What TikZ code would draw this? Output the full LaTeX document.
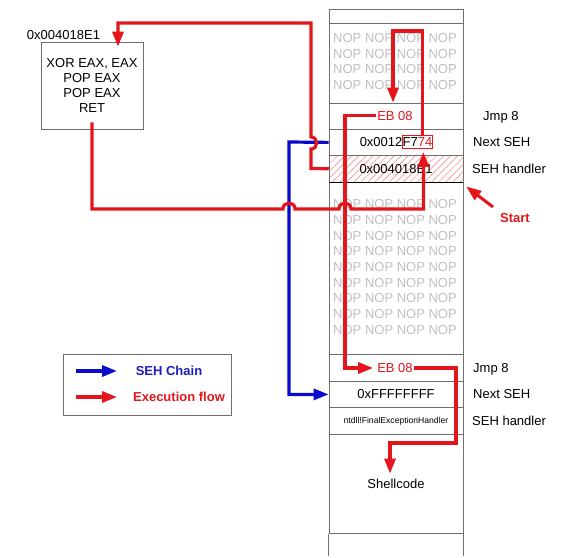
\documentclass[tikz,border=0pt]{standalone}
\usepackage{fontspec}
\setmainfont{Liberation Sans}
\usetikzlibrary{arrows.meta,patterns.meta}
\definecolor{myred}{RGB}{228,22,28}
\definecolor{myblue}{RGB}{10,10,205}
\definecolor{legblue}{RGB}{30,30,190}
\definecolor{linegray}{RGB}{110,110,110}
\definecolor{nopgray}{RGB}{192,192,192}
\newcommand\fsz{\fontsize{13}{15.7}\selectfont}
\newcommand\fszs{\fontsize{8.6}{10}\selectfont}
\tikzset{
  txt/.style={inner sep=0pt, text height=9.4pt, text depth=0pt, font=\fsz},
  cell/.style={draw=linegray, line width=0.8pt, minimum width=134pt, inner sep=0pt, anchor=north},
  nopblk/.style={inner sep=0pt, align=center, font=\fsz, text=nopgray},
  redline/.style={draw=myred, line width=3.2pt, line join=miter},
  blueline/.style={draw=myblue, line width=3.2pt},
  tip/.style={-{Triangle[width=11pt,length=15pt]}},
}
\begin{document}
\begin{tikzpicture}[x=1pt,y=-1pt]
\useasboundingbox[fill=white] (0,0) rectangle (569,557);

% ---- stack cells
\node[cell, minimum height=14pt] (c0) at (396,9) {};
\node[cell, minimum height=80pt] (nopA) at (396,23) {};
\node[cell, minimum height=26pt] (jmp1c) at (396,103) {};
\node[cell, minimum height=26pt] (next1c) at (396,129) {};
\node[cell, minimum height=27pt, pattern={Lines[angle=45,distance=5pt,line width=0.5pt]}, pattern color=myred!55] (hand1c) at (396,155) {};
\node[cell, minimum height=172pt] (nopB) at (396,182) {};
\node[cell, minimum height=27pt] (jmp2c) at (396,354) {};
\node[cell, minimum height=26pt] (next2c) at (396,381) {};
\node[cell, minimum height=27pt] (hand2c) at (396,407) {};
\node[cell, minimum height=99pt] (shellc) at (396,434) {};
\draw[linegray, line width=0.8pt] (shellc.south west) -- ++(0,22) (shellc.south east) -- ++(0,22);
\draw[black, line width=0.8pt] (hand1c.south west) -- (hand1c.south east);

% ---- stack texts
\node[nopblk] (nops1) at (395,61.5) {NOP NOP NOP NOP\\NOP NOP NOP NOP\\NOP NOP NOP NOP\\NOP NOP NOP NOP};
\node[nopblk] (nops2) at (395,267) {NOP NOP NOP NOP\\NOP NOP NOP NOP\\NOP NOP NOP NOP\\NOP NOP NOP NOP\\NOP NOP NOP NOP\\NOP NOP NOP NOP\\NOP NOP NOP NOP\\NOP NOP NOP NOP\\NOP NOP NOP NOP};
\node[txt, text=myred] (eb1) at (395,115.5) {EB 08};
\node[txt, anchor=east] (pre) at (402.6,142) {0x0012};
\node[txt, anchor=west, draw=myred, line width=0.8pt, inner xsep=0.6pt, inner ysep=1.8pt] (f774) at (401.6,142) {F7\textcolor{myred}{74}};
\node[txt] (addr) at (396,168.5) {0x004018E1};
\node[txt, text=myred] (eb2) at (395,368) {EB 08};
\node[txt] (ffff) at (396,394) {0xFFFFFFFF};
\node[inner sep=0pt, text height=6.2pt, text depth=0pt, font=\fszs] (ntdll) at (396,420.5) {ntdll!FinalExceptionHandler};
\node[txt] (shell) at (396,483.5) {Shellcode};

% ---- right labels
\node[txt, anchor=west] (l1) at (483,115.5) {Jmp 8};
\node[txt, anchor=west] (l2) at (473,142) {Next SEH};
\node[txt, anchor=west] (l3) at (472,168.5) {SEH handler};
\node[txt, anchor=west] (l4) at (473,368) {Jmp 8};
\node[txt, anchor=west] (l5) at (473,394) {Next SEH};
\node[txt, anchor=west] (l6) at (472,420.5) {SEH handler};

% ---- start
\node[txt, text=myred, font=\fsz\bfseries] (start) at (515,218) {Start};
\draw[draw=myred, line width=3pt, tip] (493,207) -- ([shift={(3pt,-4pt)}]hand1c.south east);

% ---- gadget box
\node[draw=linegray, line width=0.8pt, minimum width=102pt, minimum height=87pt, inner sep=0pt, align=center, font=\fontsize{13}{15.3}\selectfont] (gadget) at (92,85.5) {XOR EAX, EAX\\POP EAX\\POP EAX\\RET};
\node[txt] (gaddr) at (63.5,35) {0x004018E1};

% ---- legend
\node[draw=linegray, line width=0.8pt, minimum width=168pt, minimum height=61pt, inner sep=0pt] (legend) at (147,384.5) {};
\coordinate (lb1) at (76,371);
\coordinate (lb2) at (117,371);
\coordinate (lr1) at (76,397);
\coordinate (lr2) at (117,397);
\draw[blueline, tip] (lb1) -- (lb2);
\draw[redline, tip] (lr1) -- (lr2);
\node[txt, text=legblue, font=\fsz\bfseries] (legseh) at (169,371) {SEH Chain};
\node[txt, text=myred, font=\fsz\bfseries] (legexe) at (179,397) {Execution flow};

% ---- SEH chain (blue)
\draw[blueline, tip] (next1c.west) -- (289,142) |- (next2c.west);

% ---- execution flow (red)
% SEH handler -> gadget
\draw[redline, tip] (hand1c.west) -- (311,168.5) -- (311,149)
  .. controls (318.5,149) and (318.5,137) .. (311,137)
  -- (311,23) -| ([xshift=26pt,yshift=-5pt]gadget.north);
% RET -> Next SEH
\draw[redline, tip] ([yshift=7pt]gadget.south) -- (92,209) -- (283,209)
  .. controls (283,201) and (295,201) .. (295,209) -- (339,209)
  .. controls (339,201) and (351,201) .. (351,209)
  -| ([xshift=6pt,yshift=-3pt]f774.south);
% Next SEH -> EB 08
\draw[redline, tip] ([xshift=5pt,yshift=-1pt]f774.north) |- (393,31) -- ([xshift=-2pt,yshift=8pt]eb1.north);
% EB 08 -> EB 08
\draw[redline, tip] ([xshift=-1pt]eb1.west) -| (345,368) -- ([xshift=-4pt]eb2.west);
% EB 08 -> shellcode
\draw[redline, tip] ([xshift=1pt]eb2.east) -| (456,443) -| ([xshift=-6pt,yshift=5pt]shell.north);
\end{tikzpicture}
\end{document}
